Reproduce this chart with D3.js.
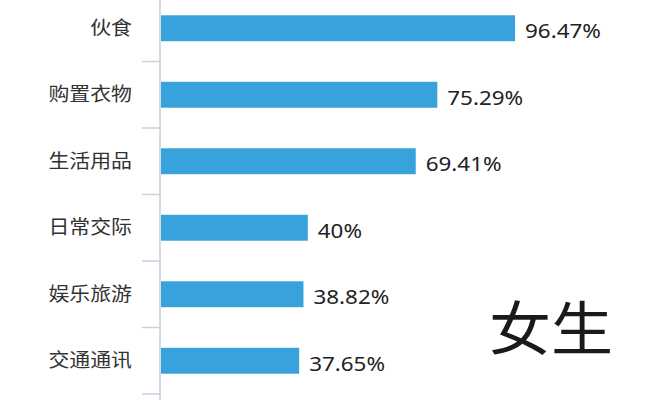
<!DOCTYPE html>
<html>
<head>
<meta charset="utf-8">
<script src="https://cdn.jsdelivr.net/npm/d3@7"></script>
<style>
  body { margin: 0; background: #fff; }
  svg { display: block; font-family: "Noto Sans", "Noto Sans CJK SC", sans-serif; }
</style>
</head>
<body>
<svg id="chart"></svg>
<script>
var width = 667, height = 400;
var categories = ["伙食", "购置衣物", "生活用品", "日常交际", "娱乐旅游", "交通通讯"];
var values = [96.47, 75.29, 69.41, 40, 38.82, 37.65];
var valueLabels = ["96.47%", "75.29%", "69.41%", "40%", "38.82%", "37.65%"];
var title = "女生";

var data = categories.map(function(c, i){
    return { name: c, value: values[i], label: valueLabels[i] };
});

var svg = d3.select("#chart")
    .attr("width", width)
    .attr("height", height)
    .style("background-color", "white");

var x = d3.scaleLinear().domain([0, 100]).range([161, 528]);
var y = d3.scaleBand()
    .domain(categories)
    .range([-5, 394])
    .paddingInner(0.61)
    .paddingOuter(0.305);

var step = y.step(), bw = y.bandwidth();

// category labels
var yAxis = d3.axisLeft(y).tickSize(0).tickPadding(0);
var ga = svg.append("g")
    .attr("transform", "translate(132,0)")
    .call(yAxis);
ga.select(".domain").remove();
ga.selectAll("text")
    .attr("font-family", "'Noto Sans CJK SC', sans-serif")
    .attr("font-size", 19)
    .attr("fill", "#333")
    .attr("dy", "0.35em")
    .attr("transform", "scale(1.1,1)")
    .style("transform-origin", "0 0");

// axis line + boundary ticks
svg.append("line")
    .attr("x1", 160).attr("x2", 160)
    .attr("y1", 0).attr("y2", height)
    .attr("stroke", "#c9d1dd")
    .attr("stroke-width", 1.5);

svg.selectAll(".tick-mark")
    .data(categories)
    .enter().append("line")
    .attr("class", "tick-mark")
    .attr("x1", 142).attr("x2", 160)
    .attr("y1", function(d){ return y(d) + bw + (step - bw) / 2; })
    .attr("y2", function(d){ return y(d) + bw + (step - bw) / 2; })
    .attr("stroke", "#c9d1dd")
    .attr("stroke-width", 1.5);

// bars
svg.selectAll(".bar")
    .data(data)
    .enter().append("rect")
    .attr("class", "bar")
    .attr("x", x(0))
    .attr("y", function(d){ return y(d.name); })
    .attr("width", function(d){ return x(d.value) - x(0); })
    .attr("height", bw)
    .attr("fill", "#37a2dc");

// value labels
svg.selectAll(".val")
    .data(data)
    .enter().append("text")
    .attr("class", "val")
    .attr("transform", function(d){
        return "translate(" + (x(d.value) + 10) + "," + (y(d.name) + bw / 2 + 3) + ") scale(1.12,1)";
    })
    .attr("dy", "0.35em")
    .attr("font-size", 20)
    .attr("fill", "#222")
    .text(function(d){ return d.label; });

// big title
svg.append("text")
    .attr("transform", "translate(551,329) scale(1.07,1)")
    .attr("text-anchor", "middle")
    .attr("dy", "0.36em")
    .attr("font-family", "'Noto Sans CJK SC', sans-serif")
    .attr("font-size", 58)
    .attr("fill", "#1a1a1a")
    .text(title);
</script>
</body>
</html>
